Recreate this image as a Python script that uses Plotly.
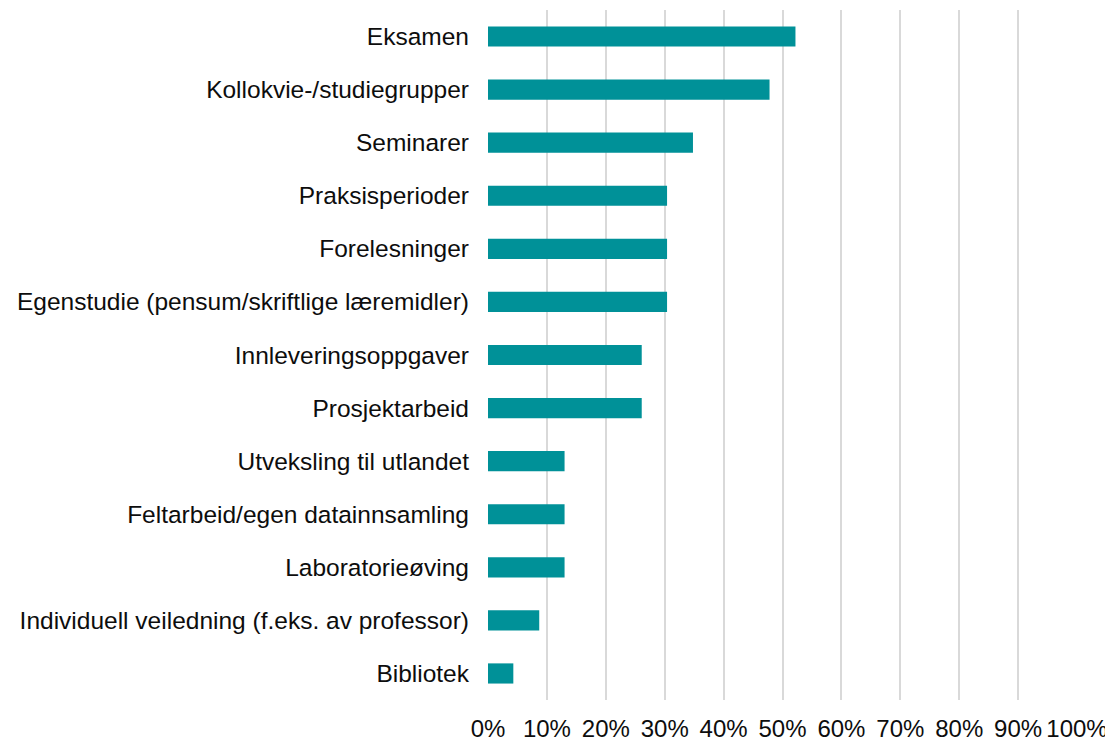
import plotly.graph_objects as go

categories = [
    "Eksamen",
    "Kollokvie-/studiegrupper",
    "Seminarer",
    "Praksisperioder",
    "Forelesninger",
    "Egenstudie (pensum/skriftlige læremidler)",
    "Innleveringsoppgaver",
    "Prosjektarbeid",
    "Utveksling til utlandet",
    "Feltarbeid/egen datainnsamling",
    "Laboratorieøving",
    "Individuell veiledning (f.eks. av professor)",
    "Bibliotek",
]
values = [52.2, 47.8, 34.8, 30.4, 30.4, 30.4, 26.1, 26.1, 13.0, 13.0, 13.0, 8.7, 4.3]
tick_values = [0, 10, 20, 30, 40, 50, 60, 70, 80, 90, 100]
tick_labels = ["0%", "10%", "20%", "30%", "40%", "50%", "60%", "70%", "80%", "90%", "100%"]

fig = go.Figure(
    go.Bar(
        x=values,
        y=categories,
        orientation="h",
        marker=dict(color="#009198", line=dict(width=0)),
    )
)

# page body has a default 8px margin, so the figure is sized to fit the window
fig.update_layout(
    width=1105,
    height=734,
    margin=dict(l=480, r=36, t=2, b=42),
    paper_bgcolor="white",
    plot_bgcolor="white",
    bargap=0.62,
    showlegend=False,
    font=dict(family="Liberation Sans, Arial, sans-serif", size=24, color="#0d0d0d"),
)
fig.update_xaxes(
    range=[0, 100],
    tickvals=tick_values,
    ticktext=tick_labels,
    showgrid=True,
    gridcolor="#d9d9d9",
    gridwidth=1.5,
    zeroline=False,
    showline=False,
    ticks="",
    ticklabelstandoff=12,
    automargin=False,
    fixedrange=True,
)
fig.update_yaxes(
    autorange="reversed",
    showgrid=False,
    zeroline=False,
    showline=False,
    ticks="",
    ticklabelstandoff=18,
    tickfont=dict(size=24.5),
    automargin=False,
    fixedrange=True,
)

fig.write_html("out.html")
